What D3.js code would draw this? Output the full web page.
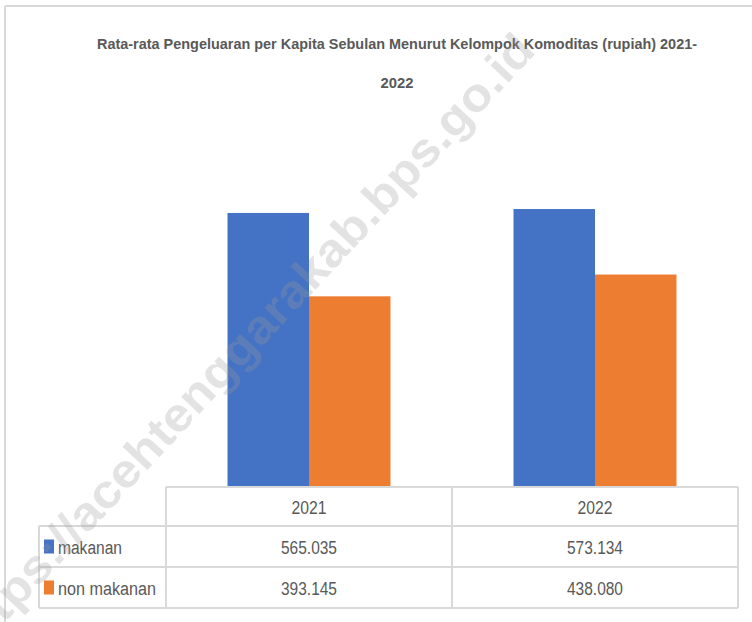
<!DOCTYPE html>
<html>
<head>
<meta charset="utf-8">
<script src="https://cdn.jsdelivr.net/npm/d3@7"></script>
<style>
  html, body { margin: 0; padding: 0; background: #fff; }
  svg { display: block; font-family: "Liberation Sans", Arial, sans-serif; }
</style>
</head>
<body>
<svg id="chart" width="752" height="622"></svg>
<script>
const titleLines = ["Rata-rata Pengeluaran per Kapita Sebulan Menurut Kelompok Komoditas (rupiah) 2021-", "2022"];
const years = ["2021", "2022"];
const seriesNames = ["makanan", "non makanan"];
const makanan = [565.035, 573.134];
const nonMakanan = [393.145, 438.080];
const valueLabels = [["565.035", "573.134"], ["393.145", "438.080"]];
const colors = ["#4472C4", "#ED7D31"];
const watermark = "https://acehtenggarakab.bps.go.id";

const seriesValues = [makanan, nonMakanan];
const data = years.map((y, i) => ({ year: y, values: seriesNames.map((s, j) => ({ series: s, value: seriesValues[j][i], idx: j })) }));

const svg = d3.select("#chart");
const gridColor = "#d9d9d9";
const textColor = "#595959";

// outer chart border (left + top visible)
svg.append("line").attr("x1", 5).attr("x2", 752).attr("y1", 6).attr("y2", 6)
  .attr("stroke", gridColor).attr("stroke-width", 2);
svg.append("line").attr("x1", 5).attr("x2", 5).attr("y1", 6).attr("y2", 622)
  .attr("stroke", gridColor).attr("stroke-width", 2);

// title
const titleWidths = [600, 33];
const titleY = [49, 88];
titleLines.forEach((t, i) => {
  svg.append("text").attr("x", 397).attr("y", titleY[i]).attr("text-anchor", "middle")
    .attr("font-size", 15).attr("font-weight", "bold").attr("fill", textColor)
    .attr("textLength", titleWidths[i]).attr("lengthAdjust", "spacingAndGlyphs")
    .text(t);
});

// scales
const x0 = d3.scaleBand().domain(years).range([166, 738]).paddingInner(0).paddingOuter(0);
const x1 = d3.scaleBand().domain(seriesNames).range([0, x0.bandwidth()]).paddingInner(0).paddingOuter(0.755);
const y = d3.scaleLinear().domain([0, 600]).range([487, 196]);

// bars
const groups = svg.append("g").selectAll("g").data(data).join("g")
  .attr("transform", d => `translate(${x0(d.year)},0)`);
groups.selectAll("rect").data(d => d.values).join("rect")
  .attr("x", d => x1(d.series))
  .attr("width", x1.bandwidth())
  .attr("y", d => y(d.value))
  .attr("height", d => y(0) - y(d.value))
  .attr("fill", d => colors[d.idx]);

// data table
const rowY = [487, 526, 567, 608];
const legendLeft = 39;
const tbl = svg.append("g").attr("stroke", gridColor).attr("stroke-width", 2);
tbl.append("line").attr("x1", 166).attr("x2", 738).attr("y1", rowY[0]).attr("y2", rowY[0]);
rowY.slice(1).forEach(yy => tbl.append("line").attr("x1", legendLeft).attr("x2", 738).attr("y1", yy).attr("y2", yy));
[166, x0("2022"), 738].forEach(xx => tbl.append("line").attr("x1", xx).attr("x2", xx).attr("y1", rowY[0]).attr("y2", rowY[3]));
tbl.append("line").attr("x1", legendLeft).attr("x2", legendLeft).attr("y1", rowY[1]).attr("y2", rowY[3]);

// header years
years.forEach(yr => {
  svg.append("text").attr("x", x0(yr) + x0.bandwidth() / 2).attr("y", (rowY[0] + rowY[1]) / 2 + 7)
    .attr("text-anchor", "middle").attr("font-size", 18).attr("fill", textColor)
    .attr("textLength", 35).attr("lengthAdjust", "spacingAndGlyphs").text(yr);
});
// rows
seriesNames.forEach((s, j) => {
  const cy = (rowY[j + 1] + rowY[j + 2]) / 2;
  svg.append("rect").attr("x", 44).attr("y", cy - 7).attr("width", 10).attr("height", 14).attr("fill", colors[j]);
  svg.append("text").attr("x", 58).attr("y", cy + 7).attr("font-size", 18).attr("fill", textColor)
    .attr("textLength", j === 0 ? 64 : 98).attr("lengthAdjust", "spacingAndGlyphs").text(s);
  years.forEach((yr, i) => {
    svg.append("text").attr("x", x0(yr) + x0.bandwidth() / 2).attr("y", cy + 7)
      .attr("text-anchor", "middle").attr("font-size", 18).attr("fill", textColor)
      .attr("textLength", 56).attr("lengthAdjust", "spacingAndGlyphs").text(valueLabels[j][i]);
  });
});

// watermark
svg.append("text").attr("transform", "translate(245,347) rotate(-47)")
  .attr("text-anchor", "middle").attr("dominant-baseline", "middle")
  .attr("font-size", 47).attr("font-weight", "bold").attr("fill", "#9a9a9a").attr("fill-opacity", 0.28)
  .attr("textLength", 830).attr("lengthAdjust", "spacingAndGlyphs")
  .text(watermark);
</script>
</body>
</html>
